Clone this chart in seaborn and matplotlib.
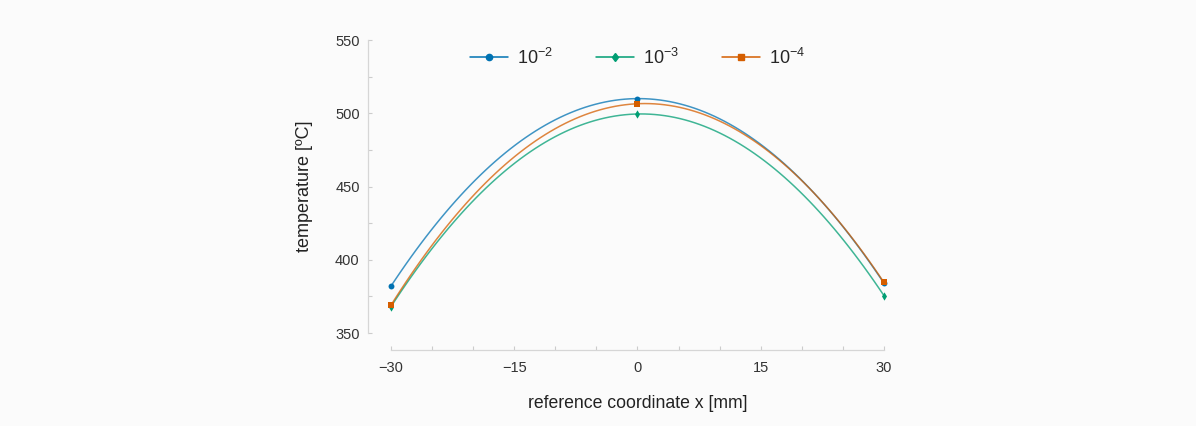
import numpy as np
import pandas as pd
import matplotlib.pyplot as plt
import matplotlib.ticker as mticker
from matplotlib.lines import Line2D
import seaborn as sns

# data
x_pos = [-30, 0, 30]
t_1e2 = [382, 510, 384]
t_1e3 = [368, 499.5, 375.5]
t_1e4 = [369, 506.5, 384.5]
labels = [r'$10^{-2}$', r'$10^{-3}$', r'$10^{-4}$']
colors = ['#0072B2', '#009E73', '#D55E00']
markers = ['o', 'd', 's']

sns.set_theme(style='white')
plt.rcParams['font.family'] = ['Liberation Sans', 'DejaVu Sans']
plt.rcParams['mathtext.fontset'] = 'custom'
plt.rcParams['mathtext.rm'] = 'Liberation Sans'
plt.rcParams['mathtext.it'] = 'Liberation Sans'

fig = plt.figure(figsize=(11.96, 4.26), dpi=100)
fig.patch.set_facecolor('#fbfbfb')
ax = fig.add_axes([0.3269, 0.2183, 0.4122, 0.6878])
ax.set_facecolor('#fbfbfb')

series = [t_1e2, t_1e3, t_1e4]
handles = []
for vals, lab, c, m in zip(series, labels, colors, markers):
    df = pd.DataFrame({'x': x_pos, 't': vals})
    # quadratic curve through the three measured points
    sns.regplot(data=df, x='x', y='t', order=2, ci=None, scatter=False,
                truncate=True, ax=ax, line_kws={'color': c, 'lw': 1.1, 'alpha': 0.75})
    sns.scatterplot(data=df, x='x', y='t', marker=m, color=c, s=18,
                    edgecolor=c, linewidth=0, ax=ax, zorder=5, clip_on=False)
    handles.append(Line2D([0], [0], color=c, lw=1.1, marker=m, markersize=4.5, label=lab))

ax.set_xlim(-30, 30)
ax.set_ylim(350, 550)
ax.xaxis.set_major_locator(mticker.MultipleLocator(15))
ax.xaxis.set_minor_locator(mticker.MultipleLocator(5))
ax.yaxis.set_major_locator(mticker.MultipleLocator(50))
ax.yaxis.set_minor_locator(mticker.MultipleLocator(25))
ax.tick_params(which='both', direction='in', length=3, width=0.8, color='#cccccc',
               labelsize=10.5, labelcolor='#333333', left=True, bottom=True)
ax.tick_params(axis='x', pad=8)
ax.tick_params(axis='y', pad=6)

sns.despine(ax=ax)
ax.spines['left'].set_position(('outward', 16.5))
ax.spines['bottom'].set_position(('outward', 12.5))
for s in ['left', 'bottom']:
    ax.spines[s].set_color('#d6d6d6')
    ax.spines[s].set_linewidth(0.9)

ax.set_xlabel('reference coordinate x [mm]', fontsize=12.7, color='#222222', labelpad=14)
ax.set_ylabel('temperature [ºC]', fontsize=13, color='#222222', labelpad=16)

leg = ax.legend(handles=handles, loc='upper center', bbox_to_anchor=(0.5, 1.03), ncol=3,
                frameon=False, fontsize=13, handlelength=2.1, columnspacing=2.4,
                handletextpad=0.5)

fig.savefig('out.png', dpi=100, facecolor=fig.get_facecolor())
